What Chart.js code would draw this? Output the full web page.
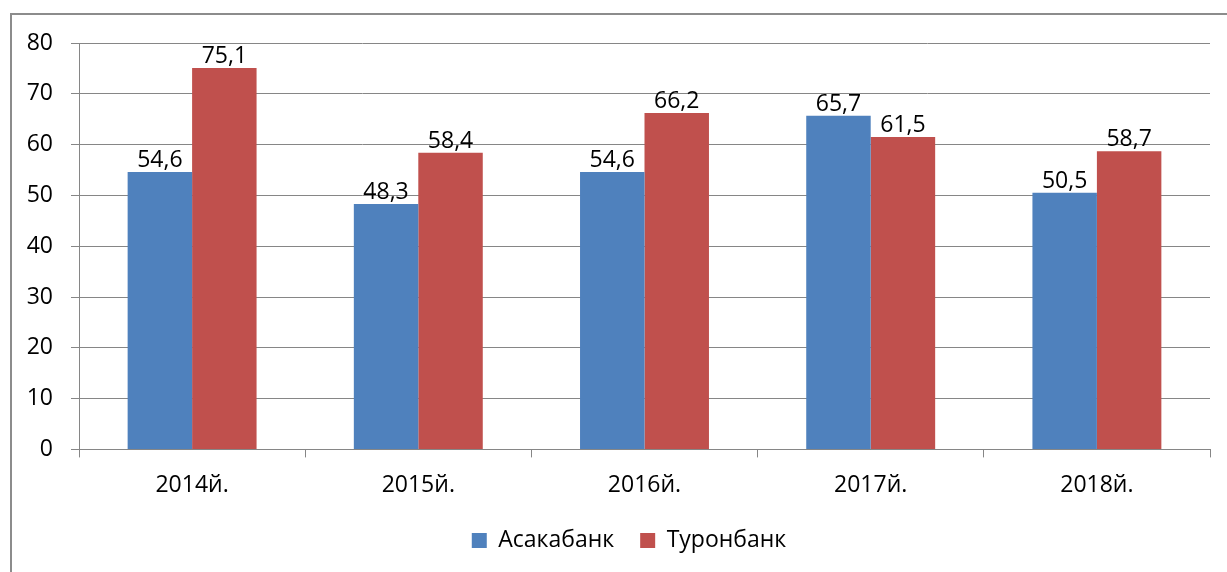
<!DOCTYPE html>
<html>
<head>
<meta charset="utf-8">
<script src="https://cdn.jsdelivr.net/npm/chart.js@4.4.0/dist/chart.umd.min.js"></script>
<style>
  html, body { margin: 0; padding: 0; background: #fff; overflow: hidden; }
  #frame { position: absolute; left: 10px; top: 13px; width: 1300px; height: 700px; border: 2px solid #8c8c8c; box-sizing: border-box; }
  #wrap { position: absolute; left: 0; top: 0; width: 1227px; height: 572px; }
</style>
</head>
<body>
<div id="frame"></div>
<div id="wrap"><canvas id="c" width="1227" height="572"></canvas></div>
<script>
const categories = ["2014й.", "2015й.", "2016й.", "2017й.", "2018й."];
const asakaValues = [54.6, 48.3, 54.6, 65.7, 50.5];
const turonValues = [75.1, 58.4, 66.2, 61.5, 58.7];
const seriesNames = ["Асакабанк", "Туронбанк"];

const FONT = "'Open Sans', sans-serif";
const FS = 23;
const GRID = "#868686";

const valueLabels = {
  id: "valueLabels",
  afterLayout(chart) {
    if (chart.legend) { chart.legend.left += 48; }
  },
  afterDatasetsDraw(chart) {
    const ctx = chart.ctx;
    ctx.save();
    ctx.font = FS + "px " + FONT;
    ctx.fillStyle = "#000";
    ctx.textAlign = "center";
    ctx.textBaseline = "alphabetic";
    chart.data.datasets.forEach((ds, di) => {
      const meta = chart.getDatasetMeta(di);
      meta.data.forEach((bar, i) => {
        const txt = ds.data[i].toFixed(1).replace(".", ",");
        ctx.fillText(txt, bar.x, bar.y - 5);
      });
    });
    ctx.restore();
  }
};

new Chart(document.getElementById("c"), {
  type: "bar",
  data: {
    labels: categories,
    datasets: [
      { label: seriesNames[0], data: asakaValues, backgroundColor: "#4F81BD", categoryPercentage: 0.57, barPercentage: 1.0 },
      { label: seriesNames[1], data: turonValues, backgroundColor: "#C0504D", categoryPercentage: 0.57, barPercentage: 1.0 }
    ]
  },
  options: {
    responsive: false,
    animation: false,
    devicePixelRatio: 1,
    layout: { padding: { left: 0, right: 17, top: 43, bottom: 10 } },
    plugins: {
      tooltip: { enabled: false },
      legend: {
        position: "bottom",
        labels: {
          boxWidth: 15, boxHeight: 15, padding: 26,
          color: "#000",
          font: { family: FONT, size: FS }
        }
      }
    },
    scales: {
      x: {
        grid: { offset: true, drawOnChartArea: false, drawTicks: true, tickLength: 8, color: GRID, lineWidth: 1 },
        border: { display: true, color: GRID, width: 1 },
        ticks: { color: "#000", font: { family: FONT, size: FS }, padding: 14 },
        afterFit(s) { s.height -= 10; }
      },
      y: {
        min: 0, max: 80,
        ticks: { stepSize: 10, color: "#000", font: { family: FONT, size: FS }, padding: 18 },
        grid: { color: GRID, lineWidth: 1, tickLength: 8, drawTicks: true },
        border: { display: true, color: GRID, width: 1 },
        afterFit(s) { s.width = 79; }
      }
    }
  },
  plugins: [valueLabels]
});
</script>
</body>
</html>
